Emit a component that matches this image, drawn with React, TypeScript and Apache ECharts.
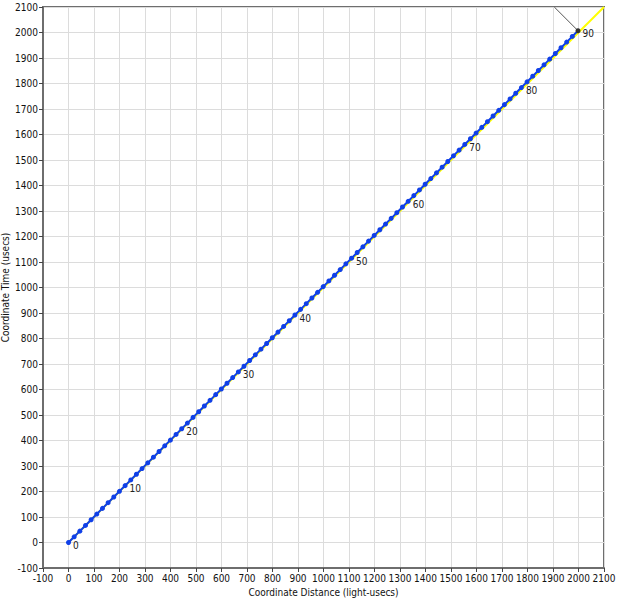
import React, { useEffect, useRef } from "react";
import * as echarts from "echarts";

// Coordinate distance (light-usecs) of each tick on the worldline
const distances = [
  0, 22.2, 44.4, 66.6, 88.8, 111, 133.2, 155.4, 177.6, 199.8,
  222, 244.2, 266.4, 288.6, 310.8, 333, 355.2, 377.4, 399.6, 421.8,
  444, 466.2, 488.4, 510.6, 532.8, 555, 577.2, 599.4, 621.6, 643.8,
  666, 688.2, 710.4, 732.6, 754.8, 777, 799.2, 821.4, 843.6, 865.8,
  888, 910.2, 932.4, 954.6, 976.8, 999, 1021.2, 1043.4, 1065.6, 1087.8,
  1110, 1132.2, 1154.4, 1176.6, 1198.8, 1221, 1243.2, 1265.4, 1287.6, 1309.8,
  1332, 1354.2, 1376.4, 1398.6, 1420.8, 1443, 1465.2, 1487.4, 1509.6, 1531.8,
  1554, 1576.2, 1598.4, 1620.6, 1642.8, 1665, 1687.2, 1709.4, 1731.6, 1753.8,
  1776, 1798.2, 1820.4, 1842.6, 1864.8, 1887, 1909.2, 1931.4, 1953.6, 1975.8,
  1998,
];

// Coordinate time (usecs) of each tick on the worldline
const times = [
  0, 22.3, 44.6, 66.9, 89.2, 111.5, 133.8, 156.1, 178.4, 200.7,
  223, 245.3, 267.6, 289.9, 312.2, 334.5, 356.8, 379.1, 401.4, 423.7,
  446, 468.3, 490.6, 512.9, 535.2, 557.5, 579.8, 602.1, 624.4, 646.7,
  669, 691.3, 713.6, 735.9, 758.2, 780.5, 802.8, 825.1, 847.4, 869.7,
  892, 914.3, 936.6, 958.9, 981.2, 1003.5, 1025.8, 1048.1, 1070.4, 1092.7,
  1115, 1137.3, 1159.6, 1181.9, 1204.2, 1226.5, 1248.8, 1271.1, 1293.4, 1315.7,
  1338, 1360.3, 1382.6, 1404.9, 1427.2, 1449.5, 1471.8, 1494.1, 1516.4, 1538.7,
  1561, 1583.3, 1605.6, 1627.9, 1650.2, 1672.5, 1694.8, 1717.1, 1739.4, 1761.7,
  1784, 1806.3, 1828.6, 1850.9, 1873.2, 1895.5, 1917.8, 1940.1, 1962.4, 1984.7,
  2007,
];

// Light line (yellow) endpoints
const lightX = [0, 2100];
const lightT = [0, 2100];

// Backward light line (dark) from final event to top edge
const backX = [1998, 1905];
const backT = [2007, 2100];

const axisMin = -100;
const axisMax = 2100;
const axisStep = 100;

const FONT = 'Tahoma, "DejaVu Sans Condensed", "DejaVu Sans", sans-serif';

export default function App() {
  const ref = useRef<HTMLDivElement>(null);

  useEffect(() => {
    if (!ref.current) return;
    const chart = echarts.init(ref.current, undefined, { renderer: "svg" });

    const lastIdx = distances.length - 1;
    const worldData = distances.map((x, i) => {
      const item: any = { value: [x, times[i]] };
      if (i % 10 === 0) {
        item.label = {
          show: true,
          formatter: String(i),
          position: "right",
          distance: 2,
          offset: [0, 3],
          color: "#222",
          fontSize: 10,
          fontFamily: FONT,
        };
      }
      if (i === lastIdx) {
        item.itemStyle = { color: "#333" };
      }
      return item;
    });

    const axisCommon = {
      type: "value" as const,
      min: axisMin,
      max: axisMax,
      interval: axisStep,
      axisLine: { show: true, onZero: false, lineStyle: { color: "#6e6e6e", width: 2 } },
      axisTick: { show: true, inside: false, length: 4, lineStyle: { color: "#444", width: 1 } },
      splitLine: { show: true, lineStyle: { color: "#dcdcdc", width: 1 } },
      axisLabel: {
        color: "#111",
        fontSize: 10,
        fontFamily: FONT,
        margin: 5,
        showMinLabel: true,
        showMaxLabel: true,
        hideOverlap: false,
        formatter: (v: number) => String(v),
      },
      nameLocation: "middle" as const,
      nameMoveOverlap: false,
      nameTextStyle: { color: "#111", fontSize: 10, fontFamily: FONT },
    };

    chart.setOption({
      animation: false,
      backgroundColor: "#ffffff",
      grid: {
        left: 43,
        right: 13,
        top: 7,
        bottom: 32,
        containLabel: false,
        outerBoundsMode: "none",
        show: true,
        borderColor: "#6e6e6e",
        borderWidth: 2,
        backgroundColor: "transparent",
      },
      xAxis: {
        ...axisCommon,
        name: "Coordinate Distance (light-usecs)",
        nameGap: 19,
      },
      yAxis: {
        ...axisCommon,
        name: "Coordinate Time (usecs)",
        nameGap: 33,
      },
      series: [
        {
          type: "line",
          data: lightX.map((x, i) => [x, lightT[i]]),
          showSymbol: false,
          lineStyle: { color: "#ffff00", width: 2 },
          z: 1,
          silent: true,
        },
        {
          type: "line",
          data: backX.map((x, i) => [x, backT[i]]),
          showSymbol: false,
          lineStyle: { color: "#555", width: 1 },
          z: 1,
          silent: true,
        },
        {
          type: "line",
          data: worldData,
          symbol: "circle",
          symbolSize: 5,
          showAllSymbol: true,
          lineStyle: { color: "#1040e8", width: 2 },
          itemStyle: { color: "#1040e8" },
          z: 3,
        },
      ],
    });

    return () => chart.dispose();
  }, []);

  return (
    <div
      ref={ref}
      style={{ position: "fixed", left: 0, top: 0, width: 617, height: 600 }}
    />
  );
}
